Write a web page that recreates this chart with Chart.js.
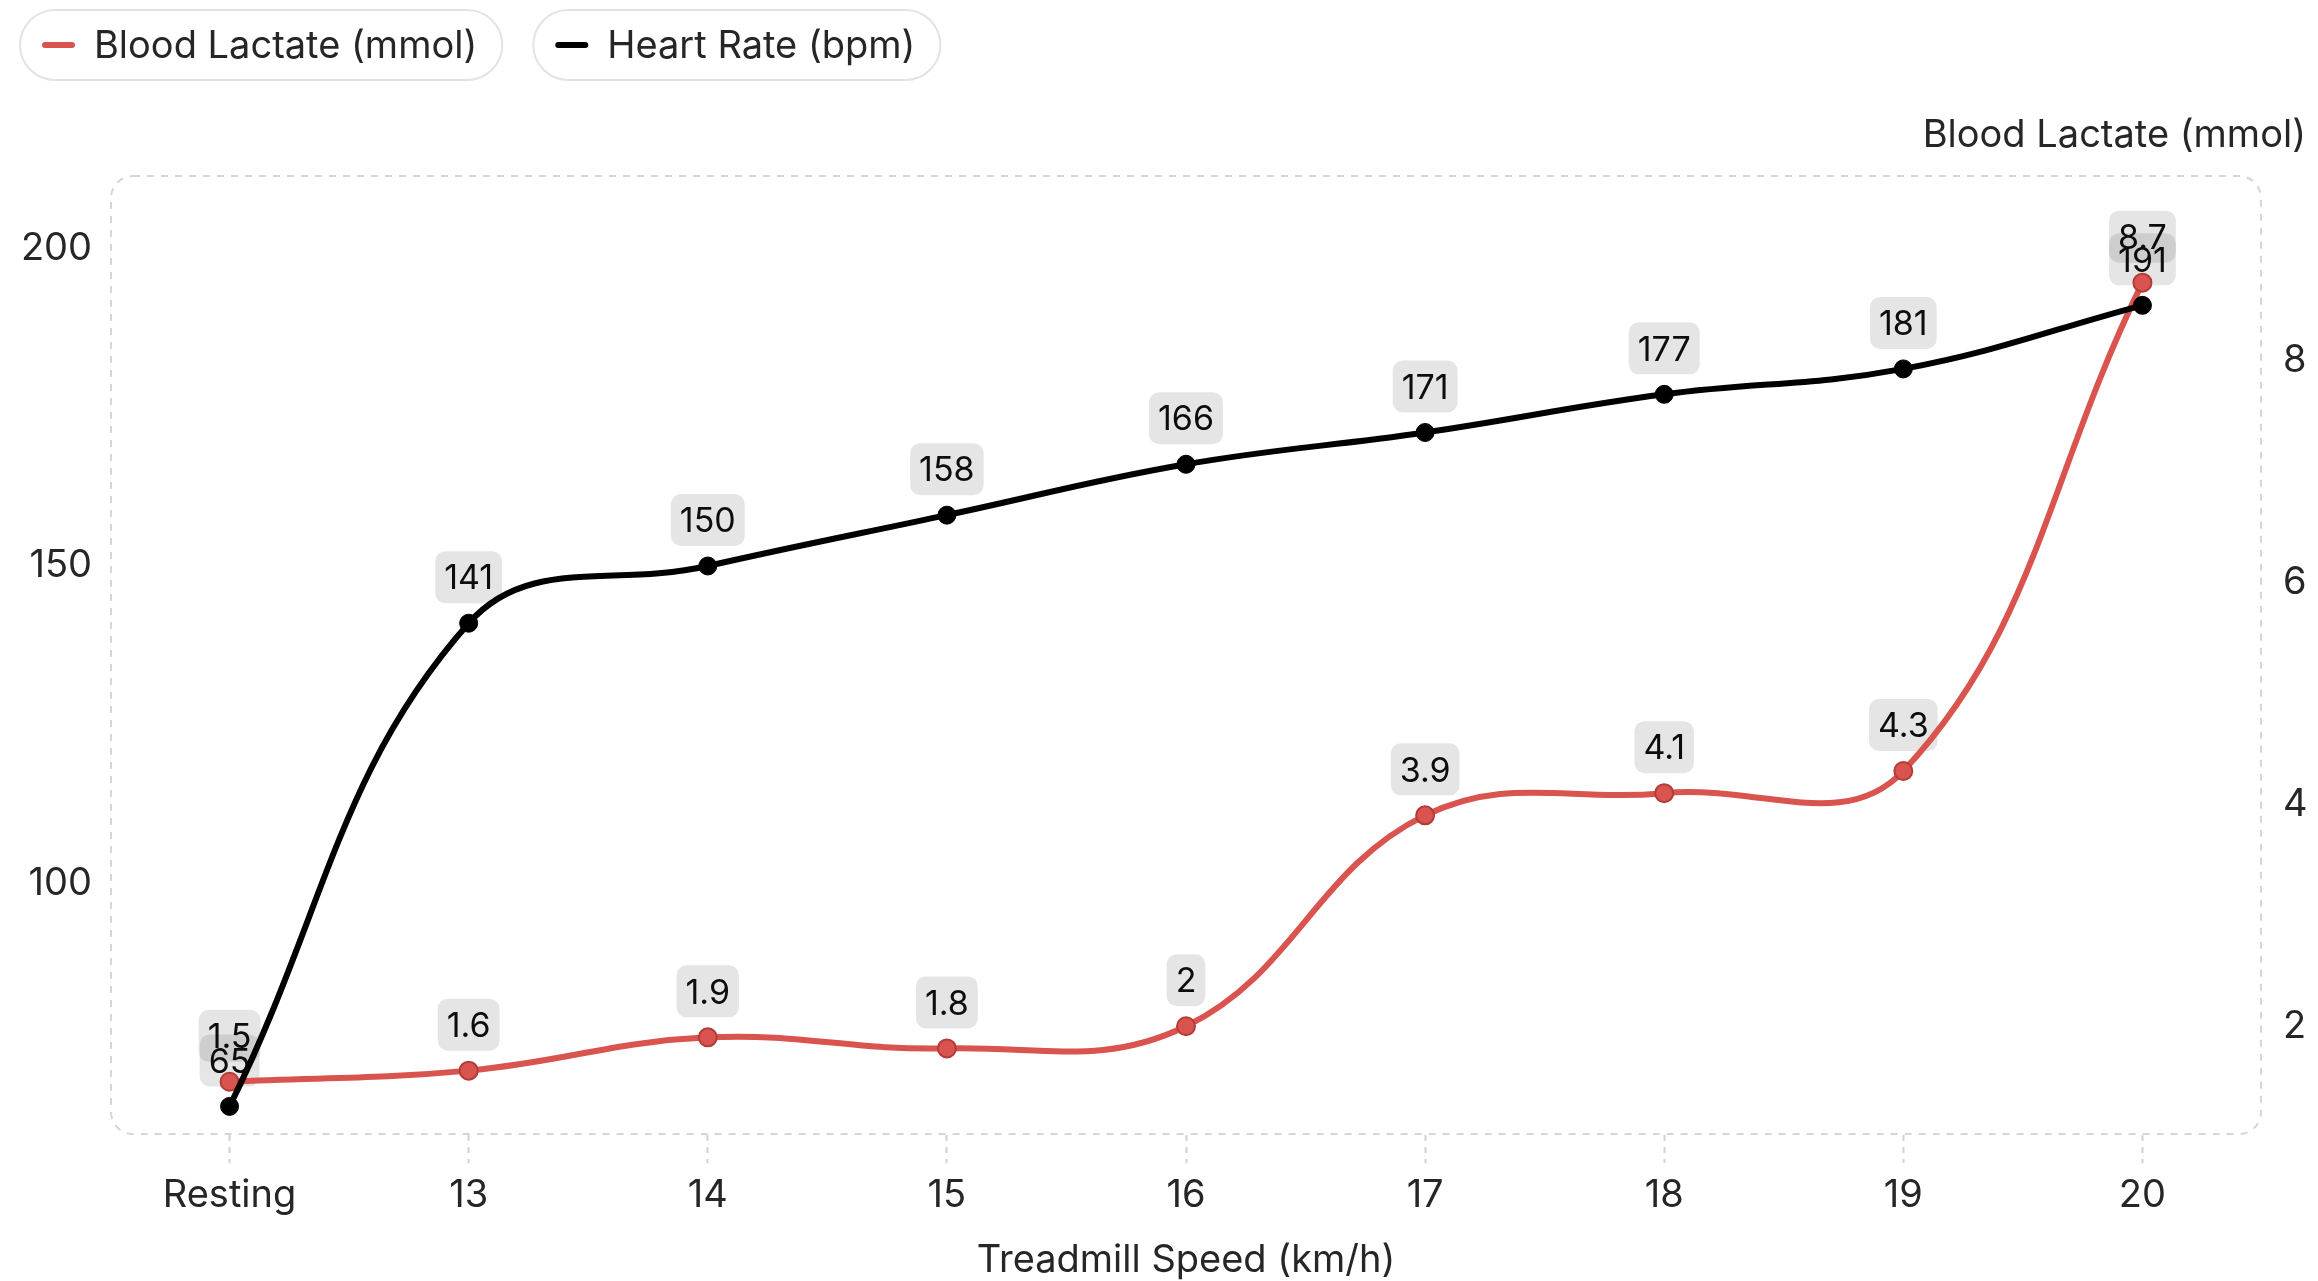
<!DOCTYPE html>
<html>
<head>
<meta charset="utf-8">
<script src="https://cdn.jsdelivr.net/npm/chart.js@4.4.1/dist/chart.umd.min.js"></script>
<style>
  html, body { margin: 0; padding: 0; background: #ffffff; }
  #wrap { width: 2318px; height: 1281px; position: relative; }
</style>
</head>
<body>
<div id="wrap"><canvas id="chart"></canvas></div>
<script>
// Treadmill step test: heart rate and blood lactate per speed stage
const speeds = ['Resting', '13', '14', '15', '16', '17', '18', '19', '20'];
const heartRate = [65, 141, 150, 158, 166, 171, 177, 181, 191];
const lactate = [1.5, 1.6, 1.9, 1.8, 2, 3.9, 4.1, 4.3, 8.7];
const heartRateTicks = [100, 150, 200];
const lactateTicks = [2, 4, 6, 8];

const RED = '#d9534f';
const BLACK = '#000000';
const FONT = 'Inter, "Noto Sans", sans-serif';
const TEXT = '#262626';

// Rounded dashed frame around the plotting area
const framePlugin = {
  id: 'frame',
  beforeDatasetsDraw(chart) {
    const { ctx, chartArea: a } = chart;
    ctx.save();
    ctx.strokeStyle = '#d6d6d6';
    ctx.lineWidth = 2;
    ctx.setLineDash([7, 7]);
    ctx.beginPath();
    ctx.roundRect(a.left + 1, a.top + 1, a.right - a.left - 2, a.bottom - a.top - 2, 22);
    ctx.stroke();
    ctx.restore();
  }
};

// Value badges above each point
const valueLabels = {
  id: 'valueLabels',
  beforeDatasetsDraw(chart) {
    const { ctx } = chart;
    ctx.save();
    ctx.font = '34px ' + FONT;
    ctx.textAlign = 'center';
    ctx.textBaseline = 'middle';
    chart.data.datasets.forEach((ds, di) => {
      const meta = chart.getDatasetMeta(di);
      meta.data.forEach((pt, i) => {
        const txt = String(ds.data[i]);
        const w = ctx.measureText(txt).width + 18;
        const h = 52;
        const cx = pt.x, cy = pt.y - 46;
        ctx.fillStyle = 'rgba(0,0,0,0.1)';
        ctx.beginPath();
        ctx.roundRect(cx - w / 2, cy - h / 2, w, h, 10);
        ctx.fill();
        ctx.fillStyle = '#0d0d0d';
        ctx.fillText(txt, cx, cy + 2);
      });
    });
    ctx.restore();
  }
};

// Pill legend and right-axis caption
const headerPlugin = {
  id: 'header',
  afterDraw(chart) {
    const { ctx } = chart;
    ctx.save();
    ctx.font = '38px ' + FONT;
    ctx.textBaseline = 'middle';
    let x = 20;
    const y = 10, h = 70;
    chart.data.datasets.forEach((ds) => {
      const tw = ctx.measureText(ds.label).width;
      const w = 23 + 32 + 20 + tw + 24;
      ctx.fillStyle = '#ffffff';
      ctx.strokeStyle = '#e3e3e3';
      ctx.lineWidth = 2;
      ctx.beginPath();
      ctx.roundRect(x, y, w, h, h / 2);
      ctx.fill();
      ctx.stroke();
      ctx.strokeStyle = ds.borderColor;
      ctx.lineWidth = 6;
      ctx.lineCap = 'round';
      ctx.beginPath();
      ctx.moveTo(x + 25, y + h / 2);
      ctx.lineTo(x + 52, y + h / 2);
      ctx.stroke();
      ctx.fillStyle = TEXT;
      ctx.textAlign = 'left';
      ctx.fillText(ds.label, x + 74, y + h / 2 + 2);
      x += w + 31;
    });
    ctx.fillStyle = TEXT;
    ctx.textAlign = 'right';
    ctx.fillText('Blood Lactate (mmol)', 2306, 136);
    ctx.restore();
  }
};

new Chart(document.getElementById('chart'), {
  type: 'line',
  data: {
    labels: speeds,
    datasets: [
      {
        label: 'Blood Lactate (mmol)',
        data: lactate,
        yAxisID: 'yLactate',
        borderColor: RED,
        backgroundColor: RED,
        pointBackgroundColor: RED,
        pointBorderColor: '#b23c38',
        pointBorderWidth: 2,
        pointRadius: 9,
        borderWidth: 6,
        tension: 0.4,
        order: 2
      },
      {
        label: 'Heart Rate (bpm)',
        data: heartRate,
        yAxisID: 'yHeart',
        borderColor: BLACK,
        backgroundColor: BLACK,
        pointBackgroundColor: BLACK,
        pointBorderColor: BLACK,
        pointBorderWidth: 1,
        pointRadius: 9,
        borderWidth: 6,
        tension: 0.4,
        order: 1
      }
    ]
  },
  options: {
    responsive: true,
    maintainAspectRatio: false,
    devicePixelRatio: 1,
    animation: false,
    layout: { padding: { top: 175, left: 0, right: 0, bottom: 0 } },
    plugins: {
      legend: { display: false },
      tooltip: { enabled: false }
    },
    scales: {
      x: {
        type: 'category',
        offset: true,
        border: { display: false },
        grid: {
          display: true,
          offset: false,
          drawOnChartArea: false,
          drawTicks: true,
          tickLength: 28,
          tickWidth: 2,
          tickColor: '#d2d2d2',
          tickBorderDash: [6, 6]
        },
        ticks: { font: { family: FONT, size: 38 }, color: TEXT, padding: 10, maxRotation: 0 },
        title: {
          display: true,
          text: 'Treadmill Speed (km/h)',
          font: { family: FONT, size: 38, lineHeight: 1.05 },
          color: TEXT,
          padding: { top: 0, bottom: 0 }
        },
        afterFit(scale) { scale.height = 146; }
      },
      yHeart: {
        position: 'left',
        min: 60.5,
        max: 211.5,
        border: { display: false },
        grid: { display: false, drawTicks: false },
        ticks: { font: { family: FONT, size: 38 }, color: TEXT, padding: 18 },
        afterBuildTicks(scale) { scale.ticks = heartRateTicks.map(v => ({ value: v })); },
        afterFit(scale) { scale.width = 110; }
      },
      yLactate: {
        position: 'right',
        min: 1.02,
        max: 9.67,
        border: { display: false },
        grid: { display: false, drawTicks: false },
        ticks: { font: { family: FONT, size: 38 }, color: TEXT, padding: 21 },
        afterBuildTicks(scale) { scale.ticks = lactateTicks.map(v => ({ value: v })); },
        afterFit(scale) { scale.width = 56; }
      }
    }
  },
  plugins: [framePlugin, valueLabels, headerPlugin]
});
</script>
</body>
</html>
